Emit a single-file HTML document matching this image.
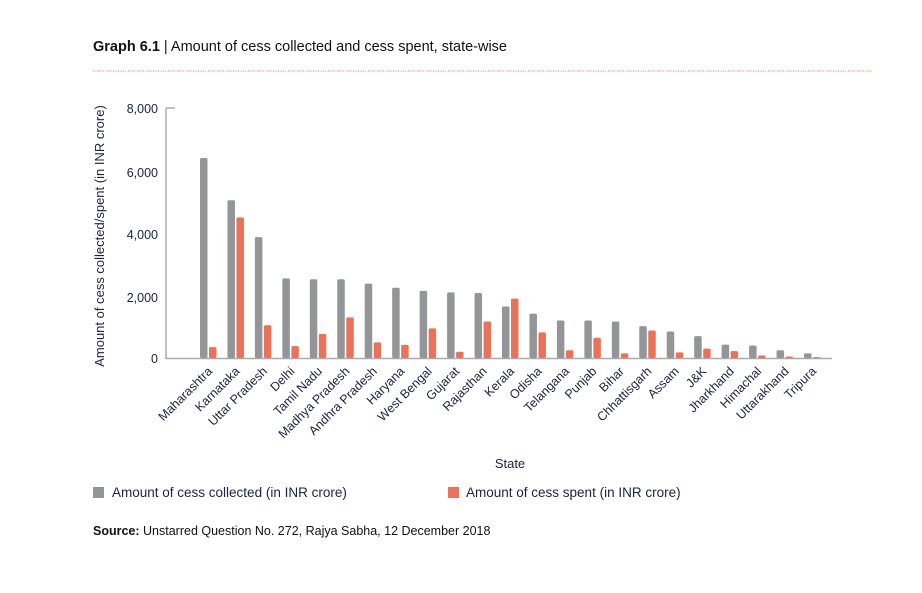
<!DOCTYPE html>
<html><head><meta charset="utf-8"><style>
body{margin:0;background:#fff;}
svg{display:block;font-family:"Liberation Sans",sans-serif;}
</style></head><body>
<svg width="922" height="593" viewBox="0 0 922 593" xmlns="http://www.w3.org/2000/svg">
<text x="93" y="51" font-size="14.5" fill="#111"><tspan font-weight="bold">Graph 6.1</tspan> | Amount of cess collected and cess spent, state-wise</text>
<line x1="93" y1="71" x2="872" y2="71" stroke="#e8735a" stroke-width="1" stroke-dasharray="1,1.5"/>
<text transform="translate(104,236) rotate(-90)" text-anchor="middle" font-size="13" fill="#1a2340">Amount of cess collected/spent (in INR crore)</text>
<g font-size="12.5" fill="#1a2340" text-anchor="end">
<text x="158" y="113">8,000</text>
<text x="158" y="177">6,000</text>
<text x="158" y="239">4,000</text>
<text x="158" y="302">2,000</text>
<text x="158" y="363">0</text>
</g>
<line x1="166" y1="108" x2="166" y2="359" stroke="#aaa" stroke-width="1.5"/>
<line x1="166" y1="108" x2="175" y2="108" stroke="#aaa" stroke-width="1.5"/>
<line x1="166" y1="358.5" x2="832" y2="358.5" stroke="#aaa" stroke-width="1.5"/>
<g id="bars"></g>
<g id="labels" font-size="12.5" fill="#1a2340" text-anchor="end"></g>
<text x="510" y="468" font-size="13" fill="#1a2340" text-anchor="middle">State</text>
<rect x="93" y="487" width="11" height="11" fill="#939598"/>
<text x="112" y="497" font-size="13.5" fill="#1a2340">Amount of cess collected (in INR crore)</text>
<rect x="448" y="487" width="11" height="11" fill="#e8735a"/>
<text x="466" y="497" font-size="13.5" fill="#1a2340">Amount of cess spent (in INR crore)</text>
<text x="93" y="535" font-size="12.5" fill="#111"><tspan font-weight="bold">Source:</tspan> Unstarred Question No. 272, Rajya Sabha, 12 December 2018</text>
<script>
var d=[["Maharashtra",6400,350],["Karnataka",5050,4500],["Uttar Pradesh",3870,1050],["Delhi",2550,380],["Tamil Nadu",2520,770],["Madhya Pradesh",2520,1300],["Andhra Pradesh",2380,500],["Haryana",2250,420],["West Bengal",2150,950],["Gujarat",2100,200],["Rajasthan",2080,1170],["Kerala",1650,1900],["Odisha",1420,820],["Telangana",1200,250],["Punjab",1200,650],["Bihar",1170,150],["Chhattisgarh",1020,880],["Assam",850,180],["J&K",700,300],["Jharkhand",430,220],["Himachal",400,80],["Uttarakhand",250,50],["Tripura",150,30]];
var ns="http://www.w3.org/2000/svg",b=document.getElementById("bars"),l=document.getElementById("labels");
var step=(804-200)/22;
d.forEach(function(r,i){
 var x=200+i*step;
 [[r[1],"#939598",0],[r[2],"#e8735a",9]].forEach(function(s){
  var h=s[0]*250/8000,e=document.createElementNS(ns,"rect");
  e.setAttribute("x",x+s[2]);e.setAttribute("y",358-h);e.setAttribute("width",7.5);e.setAttribute("height",h);
  e.setAttribute("rx",1.5);e.setAttribute("fill",s[1]);b.appendChild(e);
 });
 var t=document.createElementNS(ns,"text");
 t.setAttribute("transform","translate("+(x+13)+",372) rotate(-45)");
 t.textContent=r[0];l.appendChild(t);
});
</script>
</svg>
</body></html>
